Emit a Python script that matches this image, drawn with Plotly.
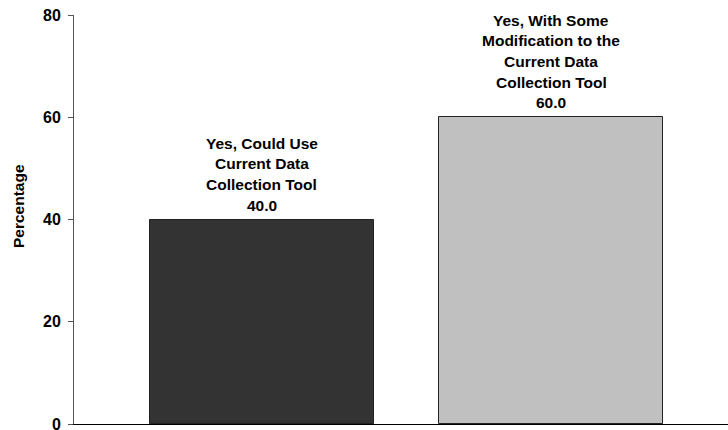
import plotly.graph_objects as go

categories = [["Yes, Could Use", "Current Data", "Collection Tool"],
              ["Yes, With Some", "Modification to the", "Current Data", "Collection Tool"]]
values = [40.0, 60.0]
colors = ["#333333", "#C0C0C0"]
y_ticks = [0, 20, 40, 60, 80]

FONT = "Liberation Sans, Arial"
xs = [0, 1]
fig = go.Figure()
fig.add_trace(go.Bar(
    x=xs, y=values, width=0.772,
    marker=dict(color=colors, line=dict(color="#222222", width=1)),
    hoverinfo="skip",
))

for x, v, lines in zip(xs, values, categories):
    all_lines = lines + [f"{v:.1f}"]
    n = len(all_lines)
    for i, ln in enumerate(all_lines):
        k = n - 1 - i
        fig.add_annotation(
            x=x, y=v, xref="x", yref="y",
            text=f"<b>{ln}</b>",
            showarrow=False, yanchor="middle", yshift=14.5 + k * 20.6,
            font=dict(family=FONT, size=15.5, color="#000000"),
            align="center",
        )

fig.add_annotation(
    x=(18 - 74) / 654, y=(424 - 206) / 409, xref="paper", yref="paper",
    text="<b>Percentage</b>", showarrow=False, textangle=-90,
    xanchor="center", yanchor="middle",
    font=dict(family=FONT, size=15.5, color="#000000"),
)

fig.update_layout(
    width=728, height=430,
    margin=dict(l=74, r=0, t=15, b=6, autoexpand=False),
    plot_bgcolor="white", paper_bgcolor="white",
    showlegend=False,
    bargap=0,
    font=dict(family=FONT, color="#000000"),
)
fig.update_xaxes(
    range=[-0.65, 1.612], showticklabels=False, ticks="",
    showgrid=False, zeroline=False, automargin=False,
    showline=True, linecolor="#000000", linewidth=1,
)
fig.update_yaxes(
    range=[0, 80], tickvals=y_ticks, ticktext=[f"<b>{t}</b>" for t in y_ticks],
    tickfont=dict(family=FONT, size=16, color="#000000"),
    ticks="outside", ticklen=5, tickcolor="#555555", tickwidth=1,
    showgrid=False, zeroline=False, automargin=False,
    showline=True, linecolor="#555555", linewidth=1,
    ticklabelstandoff=4, ticklabeloverflow="allow",
)

fig.write_html("out.html")
